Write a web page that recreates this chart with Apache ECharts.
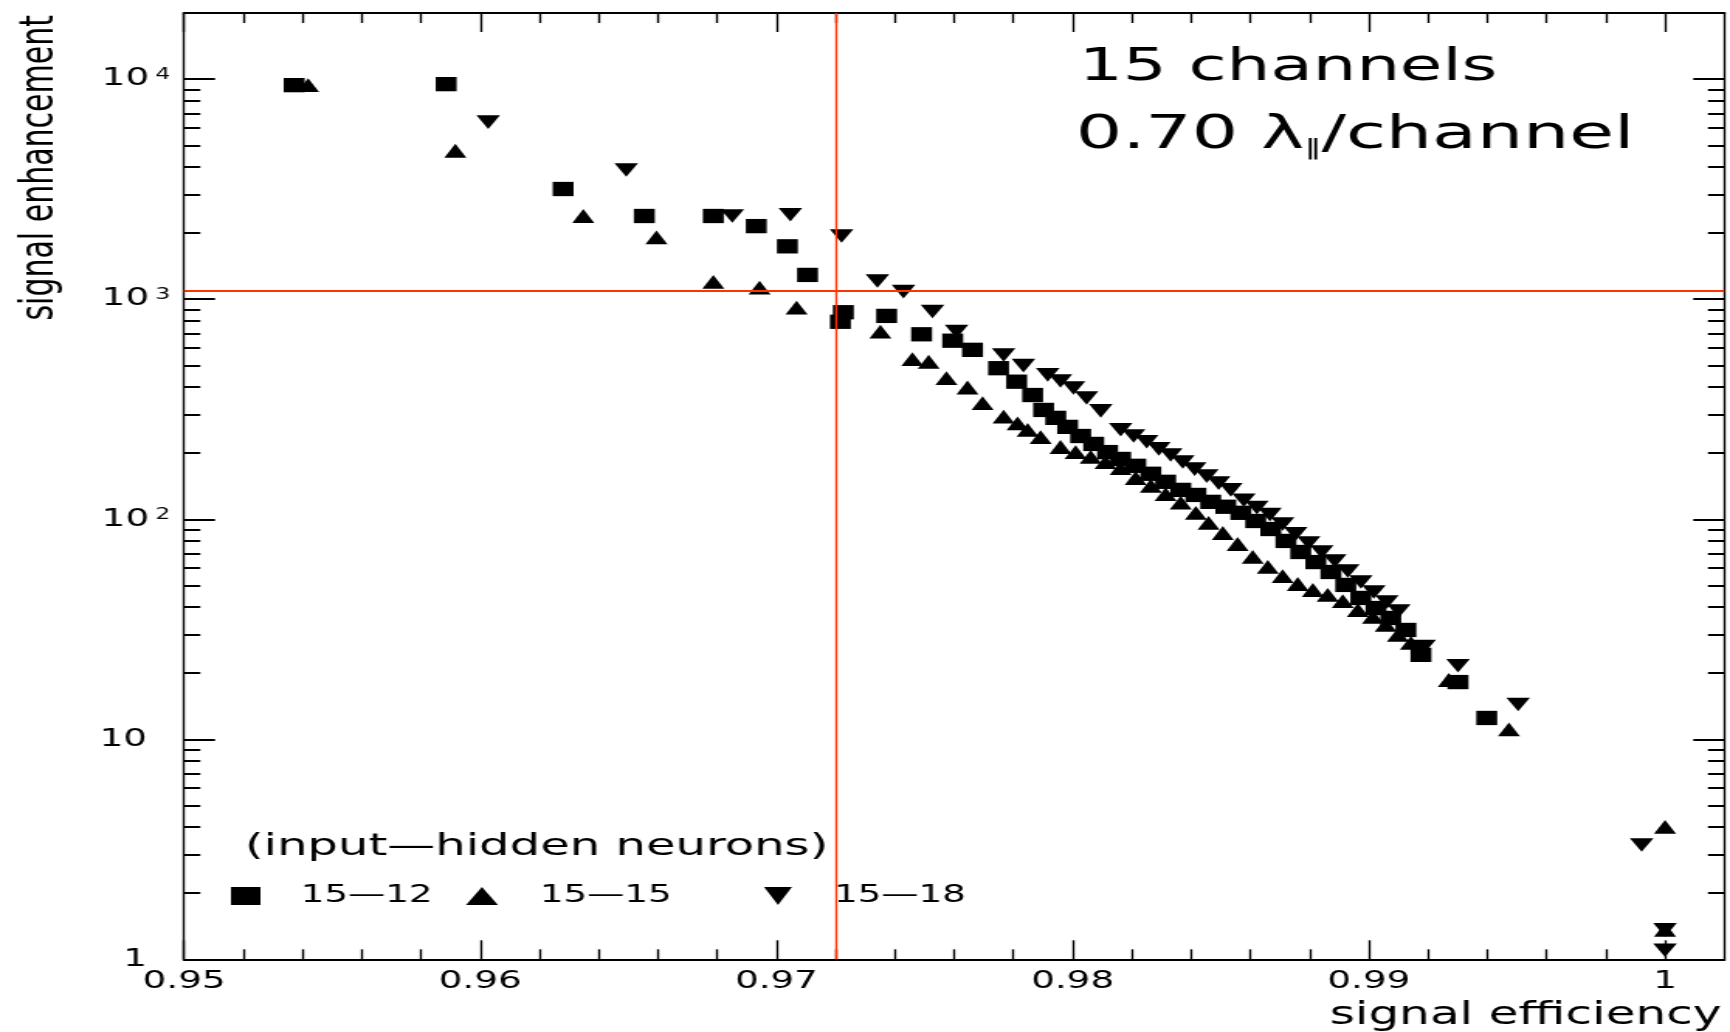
<!DOCTYPE html>
<html>
<head>
<meta charset="utf-8">
<script src="https://cdn.jsdelivr.net/npm/echarts@6/dist/echarts.min.js"></script>
<style>
html,body{margin:0;padding:0;background:#fff;overflow:hidden;width:1730px;height:1032px;}
#wrap{width:1730px;height:1032px;overflow:hidden;background:#fff;}
#chart{width:1116px;height:1032px;transform:scaleX(1.55018);transform-origin:0 0;}
</style>
</head>
<body>
<div id="wrap"><div id="chart"></div></div>
<script>
// ---------- data ----------
const seriesNames = ['15\u201412', '15\u201415', '15\u201418'];

const net1512X = [0.95372,0.95885,0.96280,0.96554,0.96787,0.96932,0.97037,0.97105,0.97226,0.97216,
  0.97372,0.97490,0.97595,0.97662,0.97750,0.97811,0.97865,0.97902,0.97943,0.97983,
  0.98027,0.98071,0.98118,0.98162,0.98213,0.98264,0.98314,0.98365,0.98416,0.98466,
  0.98517,0.98568,0.98618,0.98669,0.98720,0.98770,0.98821,0.98872,0.98922,0.98973,
  0.99024,0.99074,0.99125,0.99176,0.99301,0.99398];
const net1512Y = [9400,9500,3170,2390,2390,2150,1740,1290,873,790,
  840,693,648,589,486,422,367,314,289,263,
  239,220,202,188,175,161,148,136,129,120,
  114,107,98.2,90.3,79.7,71.0,63.9,57.6,50.3,43.9,
  39.5,35.6,31.4,24.2,18.2,12.5];

const net1515X = [0.95419,0.95916,0.96348,0.96595,0.96787,0.96943,0.97068,0.97351,0.97459,0.97514,
  0.97574,0.97645,0.97696,0.97767,0.97814,0.97848,0.97892,0.97959,0.98010,0.98061,
  0.98111,0.98162,0.98213,0.98264,0.98314,0.98365,0.98416,0.98459,0.98507,0.98557,
  0.98608,0.98659,0.98709,0.98760,0.98811,0.98861,0.98912,0.98963,0.99014,0.99057,
  0.99098,0.99142,0.99270,0.99473,1.0,1.0];
const net1515Y = [9400,4730,2390,1910,1200,1130,916,713,534,520,
  438,397,337,293,273,255,236,213,202,192,
  182,171,154,142,130,119,107,96.2,86.6,77.2,
  67.4,60.7,55.2,50.8,47.7,45.3,42.5,38.7,36.0,33.1,
  29.8,27.4,18.6,11.1,4.0,1.36];

const net1518X = [0.96027,0.96493,0.96851,0.97047,0.97220,0.97341,0.97429,0.97527,0.97608,0.97767,
  0.97834,0.97916,0.97959,0.98003,0.98047,0.98095,0.98162,0.98206,0.98250,0.98291,
  0.98331,0.98372,0.98412,0.98453,0.98493,0.98534,0.98578,0.98622,0.98666,0.98709,
  0.98753,0.98797,0.98841,0.98885,0.98929,0.98973,0.99017,0.99061,0.99101,0.99187,
  0.99301,0.99504,0.99921,1.0,1.0];
const net1518Y = [6380,3870,2390,2420,1940,1210,1083,879,713,558,
  499,453,425,395,356,311,255,239,225,209,
  196,182,169,157,146,136,122,113,105,95.2,
  85.8,78.0,71.0,64.6,58.2,51.9,46.7,42.1,38.3,26.4,
  21.6,14.4,3.31,1.36,1.10];

const cutEfficiency = 0.972;
const cutEnhancement = 1090;

const xMin = 0.95, xMax = 1.002;
const yMin = 1, yMax = 20000;
const xTickValues = [0.95,0.96,0.97,0.98,0.99,1.0];
const xTickLabels = ['0.95','0.96','0.97','0.98','0.99','1'];
const xMinorTicks = [0.952,0.954,0.956,0.958,0.962,0.964,0.966,0.968,0.972,0.974,0.976,0.978,
  0.982,0.984,0.986,0.988,0.992,0.994,0.996,0.998];
const yTickValues = [1,10,100,1000,10000];
const yTickLabels = ['1','10','10^2','10^3','10^4'];
const yMinorTicks = [2,3,4,5,6,7,8,9,20,30,40,50,60,70,80,90,200,300,400,500,600,700,800,900,
  2000,3000,4000,5000,6000,7000,8000,9000];

const titleLine1 = '15 channels';
const titleLine2a = '0.70 \u03bb', titleLine2sub = '\u2016', titleLine2b = '/channel';
const legendHeader = '(input\u2014hidden neurons)';
const xTitle = 'signal efficiency';
const yTitle = 'signal enhancement';

// ---------- chart ----------
const FONT = 'DejaVu Sans';
const zip = (xs, ys) => xs.map((x, i) => [x, ys[i]]);
const downTri = 'path://M0,0L10,0L5,10Z';

function yLabel(v) {
  let idx = 0, best = Infinity;
  yTickValues.forEach((t, i) => { const d = Math.abs(Math.log10(v) - Math.log10(t)); if (d < best) { best = d; idx = i; } });
  const lab = yTickLabels[idx];
  if (lab.indexOf('^') >= 0) {
    const p = lab.split('^');
    return '{b|' + p[0] + '}{s|' + p[1] + '}';
  }
  return '{b|' + lab + '}{sp| }';
}
function xLabel(v) {
  let idx = 0, best = Infinity;
  xTickValues.forEach((t, i) => { const d = Math.abs(v - t); if (d < best) { best = d; idx = i; } });
  return xTickLabels[idx];
}

const gridBox = { left: 118.7, right: 3.7, top: 13, bottom: 72.7 };
const black = '#000';

function xAx(gridIndex, position, major, showLine) {
  return {
    type: 'value', gridIndex, position, min: xMin, max: xMax,
    axisLine: { show: showLine, onZero: false, lineStyle: { color: black, width: 2 } },
    axisTick: { show: true, inside: true, length: major ? 19 : 10,
      customValues: major ? xTickValues : xMinorTicks, lineStyle: { color: black, width: 1.35 } },
    axisLabel: (major && position === 'bottom') ? {
      show: true, customValues: xTickValues, formatter: xLabel, margin: 10,
      fontFamily: FONT, fontSize: 24, lineHeight: 24, color: black
    } : { show: false },
    splitLine: { show: false }
  };
}
function yAx(gridIndex, position, major, showLine) {
  return {
    type: 'log', logBase: 10, gridIndex, position, min: yMin, max: yMax,
    axisLine: { show: showLine, onZero: false, lineStyle: { color: black, width: 1.35 } },
    axisTick: { show: true, inside: true, length: major ? 20 : 10.5,
      customValues: major ? yTickValues : yMinorTicks, lineStyle: { color: black, width: 2 } },
    axisLabel: (major && position === 'left') ? {
      show: true, customValues: yTickValues, formatter: yLabel, margin: 9, color: black,
      rich: {
        b: { fontFamily: FONT, fontSize: 24, lineHeight: 24, verticalAlign: 'bottom', color: black },
        s: { fontFamily: FONT, fontSize: 15, lineHeight: 15, padding: [0, 0, 14, 4], verticalAlign: 'top', color: black },
        sp: { fontFamily: FONT, fontSize: 15, lineHeight: 15, width: 15, padding: [0, 0, 14, 0], verticalAlign: 'top' }
      }
    } : { show: false },
    splitLine: { show: false }
  };
}

const chart = echarts.init(document.getElementById('chart'), null, { renderer: 'canvas' });

const legendText = { fontFamily: FONT, fontSize: 24, lineHeight: 18, color: black };
const option = {
  backgroundColor: '#fff',
  animation: false,
  grid: [Object.assign({}, gridBox), Object.assign({}, gridBox)],
  xAxis: [xAx(0, 'bottom', true, true), xAx(0, 'top', true, true), xAx(1, 'bottom', false, false), xAx(1, 'top', false, false)],
  yAxis: [yAx(0, 'left', true, true), yAx(0, 'right', true, true), yAx(1, 'left', false, false), yAx(1, 'right', false, false)],
  legend: [
    { data: [{ name: seriesNames[0], icon: 'rect' }], left: 149, top: 884, padding: 0, itemWidth: 19, itemHeight: 18,
      selectedMode: false, textStyle: Object.assign({ padding: [0, 0, 0, 21] }, legendText) },
    { data: [{ name: seriesNames[1], icon: 'triangle' }], left: 300.6, top: 884, padding: 0, itemWidth: 20.6, itemHeight: 18,
      selectedMode: false, textStyle: Object.assign({ padding: [0, 0, 0, 22] }, legendText) },
    { data: [{ name: seriesNames[2], icon: downTri }], left: 492.9, top: 884, padding: 0, itemWidth: 20, itemHeight: 18,
      selectedMode: false, textStyle: Object.assign({ padding: [0, 0, 0, 21] }, legendText) }
  ],
  series: [
    { name: seriesNames[0], type: 'scatter', xAxisIndex: 0, yAxisIndex: 0, symbol: 'rect', symbolSize: [13.5, 14.3],
      itemStyle: { color: black, opacity: 1 }, data: zip(net1512X, net1512Y), z: 2 },
    { name: seriesNames[1], type: 'scatter', xAxisIndex: 0, yAxisIndex: 0, symbol: 'triangle', symbolSize: [14.2, 13.8],
      itemStyle: { color: black, opacity: 1 }, data: zip(net1515X, net1515Y), z: 2 },
    { name: seriesNames[2], type: 'scatter', xAxisIndex: 0, yAxisIndex: 0, symbol: downTri, symbolSize: [15.2, 13.6],
      itemStyle: { color: black, opacity: 1 }, data: zip(net1518X, net1518Y), z: 2 },
    { name: 'cuts', type: 'scatter', xAxisIndex: 0, yAxisIndex: 0, data: [], z: 5,
      markLine: { silent: true, symbol: 'none', animation: false, precision: 6, label: { show: false },
        lineStyle: { color: '#ff3300', type: 'solid' },
        data: [ { xAxis: cutEfficiency, lineStyle: { width: 1.35, color: '#ff3300', type: 'solid' } },
                { yAxis: cutEnhancement, lineStyle: { width: 1.8, color: '#ff3300', type: 'solid' } } ] } }
  ],
  graphic: [
    { type: 'text', x: 696, y: 68.5, z: 10,
      style: { text: titleLine1, fontFamily: FONT, fontSize: 44.5, fill: black, textAlign: 'left', textVerticalAlign: 'middle' } },
    { type: 'text', x: 694, y: 131, z: 10,
      style: { text: '{m|' + titleLine2a + '}{sub|' + titleLine2sub + '}{m|' + titleLine2b + '}',
        textAlign: 'left', textVerticalAlign: 'middle', fill: black,
        rich: { m: { fontFamily: FONT, fontSize: 47, lineHeight: 56, verticalAlign: 'bottom', fill: black },
                sub: { fontFamily: FONT, fontSize: 22, lineHeight: 22, verticalAlign: 'bottom', fill: black } } } },
    { type: 'text', x: 158, y: 847, z: 10,
      style: { text: legendHeader, fontFamily: FONT, fontSize: 31, fill: black, textAlign: 'left', textVerticalAlign: 'middle' } },
    { type: 'text', x: 1110.5, y: 1016, z: 10,
      style: { text: xTitle, fontFamily: FONT, fontSize: 31.3, fill: black, textAlign: 'right', textVerticalAlign: 'middle' } },
    { type: 'text', x: 26, y: 15, rotation: Math.PI / 2, z: 10,
      style: { text: yTitle, fontFamily: FONT, fontSize: 30, fill: black, textAlign: 'right', textVerticalAlign: 'middle' } }
  ]
};
chart.setOption(option);
</script>
</body>
</html>
